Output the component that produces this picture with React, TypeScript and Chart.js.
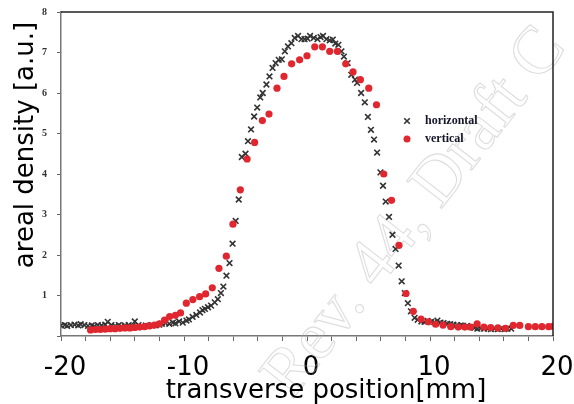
import React, { useEffect, useRef } from 'react';
import { Chart, registerables } from 'chart.js';

Chart.register(...registerables);

// ---- data ----
const seriesNames = ['horizontal', 'vertical'];
const xTitle = 'transverse position[mm]';
const yTitle = 'areal density [a.u.]';
const watermarkText = 'Rev. 44, Draft C';

const hX = [
  -20.0, -19.7, -19.5, -19.2, -18.9, -18.6, -18.4, -18.1, -17.8, -17.5, -17.3, -17.0, -16.7, -16.4, -16.2,
  -15.9, -15.6, -15.3, -15.1, -14.8, -14.5, -14.2, -14.0, -13.7, -13.4, -13.1, -12.9, -12.6, -12.3, -12.0,
  -11.8, -11.5, -11.2, -10.9, -10.7, -10.4, -10.1, -9.8, -9.6, -9.3, -9.0, -8.7, -8.5, -8.3, -8.05,
  -7.8, -7.5, -7.25, -7.0, -6.8, -6.55, -6.3, -6.05, -5.8, -5.55, -5.3, -5.0, -4.8, -4.55, -4.3,
  -4.05, -3.8, -3.6, -3.3, -3.05, -2.8, -2.55, -2.3, -2.05, -1.8, -1.55, -1.27, -1.0, -0.73, -0.45,
  -0.2, 0.05, 0.25, 0.55, 0.85, 1.1, 1.3, 1.58, 1.85, 2.1, 2.3, 2.55, 2.8, 3.0, 3.3,
  3.6, 3.9, 4.07, 4.4, 4.7, 4.95, 5.2, 5.45, 5.7, 5.97, 6.18, 6.4, 6.67, 6.95, 7.2,
  7.45, 7.7, 7.95, 8.2, 8.45, 8.75, 9.0, 9.3, 9.55, 9.8, 10.1, 10.35, 10.6, 10.85, 11.1,
  11.4, 11.65, 11.9, 12.2, 12.5, 12.7, 13.0, 13.3, 13.6, 13.85, 14.1, 14.4, 14.7, 14.95, 15.25,
  15.5, 15.8, 16.05, 16.3, 16.6,
];
const hY = [
  0.26, 0.27, 0.25, 0.27, 0.28, 0.26, 0.29, 0.27, 0.25, 0.26, 0.24, 0.27, 0.26, 0.28, 0.35,
  0.27, 0.25, 0.27, 0.24, 0.26, 0.27, 0.25, 0.36, 0.27, 0.24, 0.26, 0.25, 0.27, 0.26, 0.28,
  0.30, 0.32, 0.30, 0.33, 0.31, 0.36, 0.33, 0.38, 0.41, 0.47, 0.52, 0.58, 0.64, 0.67, 0.71,
  0.75, 0.83, 0.91, 1.06, 1.22, 1.49, 1.80, 2.28, 2.84, 3.37, 4.42, 4.50, 4.81, 5.10, 5.42,
  5.64, 5.89, 6.00, 6.21, 6.41, 6.62, 6.74, 6.82, 6.83, 7.03, 7.15, 7.23, 7.36, 7.41, 7.33,
  7.33, 7.34, 7.41, 7.36, 7.33, 7.38, 7.41, 7.33, 7.30, 7.32, 7.22, 7.19, 7.03, 6.90, 6.74,
  6.45, 6.33, 6.25, 6.00, 5.77, 5.41, 5.09, 4.85, 4.53, 4.04, 3.71, 3.32, 2.94, 2.50, 2.15,
  1.74, 1.35, 1.06, 0.81, 0.61, 0.45, 0.40, 0.36, 0.35, 0.37, 0.35, 0.34, 0.38, 0.33, 0.32,
  0.30, 0.29, 0.28, 0.27, 0.26, 0.25, 0.25, 0.22, 0.20, 0.18, 0.19, 0.18, 0.18, 0.17, 0.18,
  0.17, 0.18, 0.17, 0.18, 0.18,
];

const vX = [
  -17.6, -17.2, -16.8, -16.4, -16.0, -15.6, -15.2, -14.8, -14.4, -14.0, -13.6, -13.2, -12.8, -12.4, -12.0,
  -11.58, -11.17, -10.7, -10.28, -9.81, -9.28, -8.73, -8.24, -7.7, -7.16, -6.56, -6.02, -5.42, -4.87, -4.26,
  -3.63, -3.09, -2.44, -1.87, -1.25, -0.6, 0.0, 0.63, 1.25, 1.85, 2.47, 3.15, 3.74, 4.34, 5.02,
  5.65, 6.24, 6.87, 7.48, 8.05, 8.64, 9.27, 9.87, 10.46, 11.06, 11.69, 12.3, 12.83, 13.3, 13.83,
  14.38, 14.93, 15.52, 16.14, 16.77, 17.3, 18.0, 18.56, 19.1, 19.65, 20.0,
];
const vY = [
  0.15, 0.16, 0.16, 0.17, 0.18, 0.18, 0.19, 0.20, 0.20, 0.21, 0.22, 0.23, 0.25, 0.27, 0.30,
  0.39, 0.48, 0.51, 0.57, 0.81, 0.90, 0.97, 1.04, 1.19, 1.67, 1.97, 2.76, 3.61, 4.37, 4.78,
  5.32, 5.48, 6.12, 6.41, 6.72, 6.82, 6.92, 7.14, 7.14, 7.03, 7.03, 6.72, 6.52, 6.33, 6.12,
  5.71, 4.00, 3.35, 2.24, 1.05, 0.61, 0.42, 0.35, 0.29, 0.27, 0.23, 0.22, 0.22, 0.22, 0.30,
  0.22, 0.21, 0.20, 0.19, 0.26, 0.26, 0.23, 0.23, 0.23, 0.23, 0.24,
];

const xMin = -20;
const xMax = 20;
const xStep = 2;
const xLabelEvery = 10;
const yMin = 0;
const yMax = 8;
const yStep = 1;

const H_COLOR = '#333333';
const V_COLOR = '#e0262e';

const decorPlugin = {
  id: 'decor',
  beforeDatasetsDraw(chart: any) {
    const { ctx } = chart;
    ctx.save();
    ctx.translate(292, 400);
    ctx.rotate((-52 * Math.PI) / 180);
    ctx.font = '68px "Liberation Serif"';
    ctx.textAlign = 'left';
    ctx.textBaseline = 'alphabetic';
    ctx.strokeStyle = 'rgba(180,180,180,0.45)';
    ctx.lineWidth = 1.1;
    ctx.strokeText(watermarkText, 0, 0);
    ctx.restore();
  },
  afterDraw(chart: any) {
    const { ctx, chartArea: a } = chart;
    ctx.save();
    // top and right frame
    ctx.strokeStyle = '#222';
    ctx.lineWidth = 1.5;
    ctx.beginPath();
    ctx.moveTo(a.left, a.top);
    ctx.lineTo(a.right, a.top);
    ctx.lineTo(a.right, a.bottom);
    ctx.stroke();

    // axis titles
    ctx.fillStyle = '#000';
    ctx.font = '26px "DejaVu Sans"';
    ctx.textAlign = 'center';
    ctx.textBaseline = 'alphabetic';
    ctx.fillText(xTitle, 326, 398);
    ctx.save();
    ctx.translate(33, 145);
    ctx.rotate(-Math.PI / 2);
    ctx.fillText(yTitle, 0, 0);
    ctx.restore();

    // legend inside plot
    const lx = 407;
    const ly = [121, 139];
    const r = 2.8;
    ctx.strokeStyle = H_COLOR;
    ctx.lineWidth = 1.6;
    ctx.beginPath();
    ctx.moveTo(lx - r, ly[0] - r);
    ctx.lineTo(lx + r, ly[0] + r);
    ctx.moveTo(lx + r, ly[0] - r);
    ctx.lineTo(lx - r, ly[0] + r);
    ctx.stroke();
    ctx.fillStyle = V_COLOR;
    ctx.beginPath();
    ctx.arc(lx, ly[1], 3.5, 0, Math.PI * 2);
    ctx.fill();
    ctx.fillStyle = '#14142a';
    ctx.font = 'bold 12px "Liberation Serif"';
    ctx.textAlign = 'left';
    ctx.textBaseline = 'middle';
    ctx.fillText(seriesNames[0], 425, ly[0]);
    ctx.fillText(seriesNames[1], 425, ly[1]);
    ctx.restore();
  },
};

export default function App() {
  const ref = useRef<HTMLCanvasElement | null>(null);

  useEffect(() => {
    const canvas = ref.current;
    if (!canvas) return;
    const chart = new Chart(canvas, {
      type: 'scatter',
      data: {
        datasets: [
          {
            label: seriesNames[1],
            data: vX.map((x, i) => ({ x, y: vY[i] })),
            pointStyle: 'circle',
            pointRadius: 3.6,
            pointBorderWidth: 0,
            backgroundColor: V_COLOR,
            borderColor: V_COLOR,
            showLine: false,
          },
          {
            label: seriesNames[0],
            data: hX.map((x, i) => ({ x, y: hY[i] })),
            pointStyle: 'crossRot',
            pointRadius: 4,
            pointBorderWidth: 1.6,
            backgroundColor: H_COLOR,
            borderColor: H_COLOR,
            showLine: false,
          },
        ],
      },
      options: {
        animation: false,
        responsive: false,
        devicePixelRatio: 1,
        layout: { padding: { top: 12, right: 21, left: 0, bottom: 0 } },
        plugins: {
          legend: { display: false },
          tooltip: { enabled: false },
        },
        scales: {
          x: {
            type: 'linear',
            min: xMin,
            max: xMax,
            afterFit: (s: any) => {
              s.height = 68;
              s.paddingLeft = 0;
              s.paddingRight = 0;
            },
            border: { display: true, color: '#777', width: 1.5 },
            grid: { drawOnChartArea: false, drawTicks: true, tickLength: 5, color: '#666', lineWidth: 1 },
            ticks: {
              stepSize: xStep,
              autoSkip: false,
              maxRotation: 0,
              padding: 12,
              labelOffset: 4,
              color: '#000',
              font: { family: '"DejaVu Sans"', size: 26 },
              callback: (v: any) => (Number(v) % xLabelEvery === 0 ? String(v) : ''),
            },
          },
          y: {
            type: 'linear',
            min: yMin,
            max: yMax,
            afterFit: (s: any) => {
              s.width = 61;
              s.paddingTop = 0;
              s.paddingBottom = 0;
            },
            border: { display: true, color: '#777', width: 1.5 },
            grid: { drawOnChartArea: false, drawTicks: true, tickLength: 4, color: '#666', lineWidth: 1 },
            ticks: {
              stepSize: yStep,
              padding: 10,
              color: '#333',
              font: { family: '"Liberation Serif"', size: 10, weight: 'bold' },
              callback: (v: any) => (Number(v) === 0 ? '' : String(v)),
            },
          },
        },
      },
      plugins: [decorPlugin],
    } as any);
    return () => chart.destroy();
  }, []);

  return (
    <div style={{ position: 'fixed', left: 0, top: 0, width: 574, height: 404, background: '#fff' }}>
      <canvas ref={ref} width={574} height={404} style={{ display: 'block', width: 574, height: 404 }} />
    </div>
  );
}
